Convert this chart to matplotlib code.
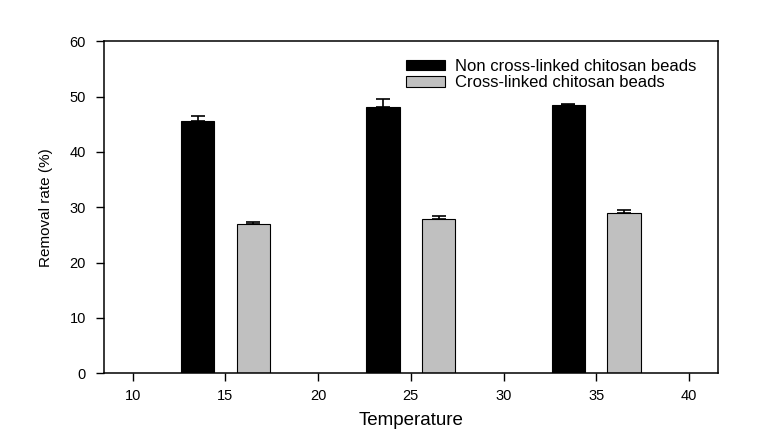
import matplotlib
matplotlib.use("Agg")
import matplotlib.pyplot as plt
import numpy as np

plt.rcParams['font.family'] = ['Liberation Sans', 'DejaVu Sans']

# data
temps = [15, 25, 35]
non_cross = [45.6, 48.1, 48.4]
non_cross_err = [0.9, 1.4, 0.3]
cross = [26.9, 27.9, 29.0]
cross_err = [0.4, 0.5, 0.6]

bar_w = 1.8
x = np.array(temps)

fig = plt.figure(figsize=(7.64, 4.37), dpi=100)
ax = fig.add_axes([104 / 764, 1 - 373.3 / 437, (717.7 - 104) / 764, (373.3 - 41.3) / 437])

ekw = dict(elinewidth=1.2, capthick=1.2, ecolor='black')
ax.bar(x - 1.5, non_cross, width=bar_w, color='black', edgecolor='black', linewidth=0.8,
       yerr=[np.zeros(3), non_cross_err], capsize=5, error_kw=ekw,
       label='Non cross-linked chitosan beads')
ax.bar(x + 1.5, cross, width=bar_w, color='#c0c0c0', edgecolor='black', linewidth=0.8,
       yerr=[np.zeros(3), cross_err], capsize=5, error_kw=ekw,
       label='Cross-linked chitosan beads')

ax.set_xlim(8.45, 41.55)
ax.set_ylim(0, 60)
ax.set_xticks(range(10, 41, 5))
ax.set_yticks(range(0, 61, 10))
ax.tick_params(direction='out', length=6, width=1, labelsize=10.5)
ax.tick_params(axis='x', pad=5)
ax.tick_params(axis='y', pad=7)
for s in ax.spines.values():
    s.set_linewidth(1.1)

ax.set_xlabel('Temperature', fontsize=13.5, labelpad=7)
ax.set_ylabel('Removal rate (%)', fontsize=11, labelpad=12)

ax.legend(loc='upper left', bbox_to_anchor=(0.479, 0.972), frameon=False, fontsize=12,
          borderpad=0, handlelength=2.3, handleheight=0.62, handletextpad=0.65, labelspacing=0.08)

fig.savefig('out.png', dpi=100)
